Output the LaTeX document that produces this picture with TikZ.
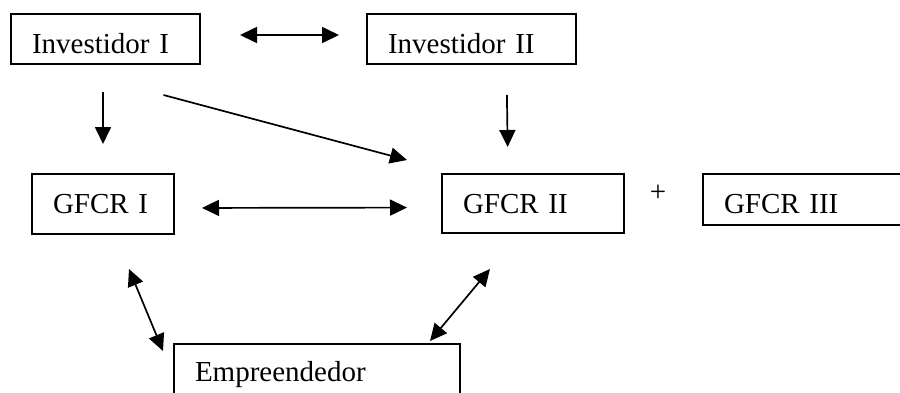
\documentclass[tikz,border=0pt]{standalone}
\usepackage{fontspec}
\setmainfont{Liberation Serif}
\usetikzlibrary{arrows.meta,calc}
\tikzset{
  box/.style={draw,line width=2pt,anchor=north west,inner xsep=21pt,inner ysep=0pt,
    text height=39pt,align=left,font=\fontsize{29}{34}\selectfont},
  link/.style={line width=1.7pt}
}

\begin{document}
\begin{tikzpicture}[x=1pt,y=-1pt,>={Triangle[length=17pt,width=16pt]}]
\useasboundingbox (0,0) rectangle (900,392);
\clip (0,0) rectangle (900,392);
% top row
\node[box,text width=147pt,text depth=11pt] (inv1) at (10,13) {Investidor I};
\node[box,text width=167pt,text depth=11pt] (inv2) at (366,13) {Investidor II};
\draw[link,<->,shorten <=39pt,shorten >=27pt] ([yshift=4pt]inv1.east) -- ([yshift=4pt]inv2.west);

% middle row
\node[box,text width=100pt,text depth=21pt] (gfcr1) at (31,173) {GFCR I};
\node[box,text width=140pt,text depth=20pt] (gfcr2) at (441,173) {GFCR II};
\node[font=\fontsize{29}{34}\selectfont] (plus) at (658,193) {+};
\node[box,text width=188pt,text depth=12pt] (gfcr3) at (702,173) {GFCR III};
\draw[link,->,shorten <=27pt,shorten >=29pt] (gfcr1.north |- inv1.south) -- (gfcr1.north);
\draw[link,->] ([shift={(58,30)}]inv1.south) -- ([shift={(-34,-13)}]gfcr2.north west);
\draw[link,->,shorten <=30pt,shorten >=26pt] ([xshift=35pt]inv2.south) -- ([xshift=-25pt]gfcr2.north);
\draw[link,<->,shorten <=27pt,shorten >=34pt] ([yshift=-4pt]gfcr1.east) -- ([yshift=-4pt]gfcr2.west);

% bottom
\node[box,text width=244pt,text height=37pt,text depth=40pt] (empr) at (173,343) {Empreendedor};
\draw[link,<->] ([shift={(26,34)}]gfcr1.south) -- ([shift={(-10,8)}]empr.north west);
\draw[link,<->] ([shift={(-43,35)}]gfcr2.south) -- ([shift={(-31,-2)}]empr.north east);
\end{tikzpicture}
\end{document}
